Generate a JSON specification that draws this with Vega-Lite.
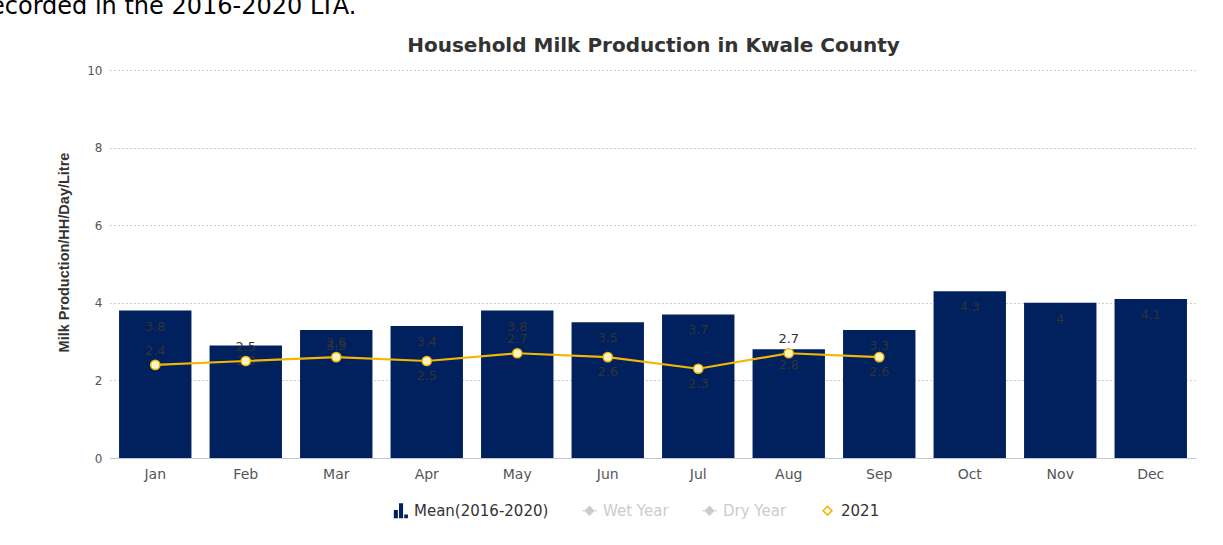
{
  "$schema": "https://vega.github.io/schema/vega-lite/v6.json",
  "autosize": {"type": "none"},
  "width": 1086,
  "height": 388,
  "padding": {"left": 110, "top": 70, "right": 27, "bottom": 87},
  "background": "white",
  "title": {
    "text": "ecorded in the 2016-2020 LTA.",
    "anchor": "start",
    "frame": "group",
    "orient": "top",
    "font": "DejaVu Sans",
    "fontSize": 24,
    "fontWeight": "normal",
    "color": "#000000",
    "baseline": "alphabetic",
    "offset": 0,
    "dx": -120,
    "dy": 3
  },
  "config": {
    "font": "DejaVu Sans",
    "view": {"stroke": null}
  },
  "data": {
    "values": [
      {"month": "Jan", "mean": 3.8, "y2021": 2.4},
      {"month": "Feb", "mean": 2.9, "y2021": 2.5},
      {"month": "Mar", "mean": 3.3, "y2021": 2.6},
      {"month": "Apr", "mean": 3.4, "y2021": 2.5},
      {"month": "May", "mean": 3.8, "y2021": 2.7},
      {"month": "Jun", "mean": 3.5, "y2021": 2.6},
      {"month": "Jul", "mean": 3.7, "y2021": 2.3},
      {"month": "Aug", "mean": 2.8, "y2021": 2.7},
      {"month": "Sep", "mean": 3.3, "y2021": 2.6},
      {"month": "Oct", "mean": 4.3, "y2021": null},
      {"month": "Nov", "mean": 4.0, "y2021": null},
      {"month": "Dec", "mean": 4.1, "y2021": null}
    ]
  },
  "resolve": {"axis": {"x": "independent"}},
  "layer": [
    {
      "mark": {"type": "bar"},
      "encoding": {
        "x": {
          "field": "month", "type": "nominal", "sort": null,
          "scale": {"paddingInner": 0.2, "paddingOuter": 0.1},
          "axis": {
            "title": null, "labelAngle": 0, "labelFont": "DejaVu Sans", "labelFontSize": 14, "labelColor": "#555555",
            "labelPadding": 9, "ticks": false, "domainColor": "#c0c8d8", "domainWidth": 1, "grid": false
          }
        },
        "y": {
          "field": "mean", "type": "quantitative",
          "scale": {"domain": [0, 10], "nice": false},
          "axis": {
            "title": "Milk Production/HH/Day/Litre",
            "titleFont": "Liberation Sans",
            "titleFontSize": 14.5, "titleFontWeight": "bold", "titleColor": "#333333",
            "titlePadding": 15, "titleY": 182,
            "values": [0, 2, 4, 6, 8, 10],
            "labelFont": "DejaVu Sans",
            "labelFontSize": 12, "labelColor": "#555555", "labelPadding": 8,
            "ticks": false, "domain": false,
            "gridColor": "#9a9a9a", "gridDash": [1, 3], "gridWidth": 1
          }
        },
        "color": {
          "datum": "Mean(2016-2020)",
          "type": "nominal",
          "scale": {
            "domain": ["Mean(2016-2020)", "Wet Year", "Dry Year", "2021"],
            "range": ["#00205e", "#cccccc", "#cccccc", "#f2b705"]
          },
          "legend": {
            "title": null,
            "orient": "none",
            "legendX": 283,
            "legendY": 433,
            "direction": "horizontal",
            "labelFontSize": 15,
            "labelFont": "DejaVu Sans",
            "columnPadding": 33,
            "symbolSize": 220,
            "labelOffset": 6,
            "encode": {
              "symbols": {
                "update": {
                  "shape": {"signal": "datum.index === 0 ? 'M-0.9,1V-0.1H-0.35V1Z M-0.2,1V-1H0.35V1Z M0.5,1V0.5H1V1Z' : (datum.index === 3 ? 'M0,-0.75L0.75,0L0,0.75L-0.75,0Z M0,-0.45L-0.45,0L0,0.45L0.45,0Z' : 'M-1,-0.08H1V0.08H-1Z M0,-0.7L0.7,0L0,0.7L-0.7,0Z')"},
                  "strokeWidth": {"value": 0},
                  "opacity": {"value": 1}
                }
              },
              "labels": {
                "update": {
                  "fill": {"signal": "datum.index === 1 || datum.index === 2 ? '#cccccc' : '#333333'"}
                }
              }
            }
          }
        }
      }
    },
    {
      "mark": {"type": "text", "baseline": "middle", "dy": 16, "fontSize": 12.5, "font": "DejaVu Sans", "color": "#333333"},
      "encoding": {
        "x": {"field": "month", "type": "nominal", "sort": null, "axis": null},
        "y": {"field": "mean", "type": "quantitative"},
        "text": {"field": "mean", "type": "quantitative", "format": ".2~f"}
      }
    },
    {
      "transform": [{"filter": "datum.y2021 != null"}],
      "mark": {"type": "line", "strokeWidth": 2.2},
      "encoding": {
        "x": {
          "field": "month", "type": "nominal", "sort": null,
          "axis": {
            "orient": "top", "title": "Household Milk Production in Kwale County",
            "titleFont": "DejaVu Sans",
            "titleFontSize": 20, "titleFontWeight": "bold", "titleColor": "#333333",
            "titlePadding": 15, "labels": false, "ticks": false, "domain": false, "grid": false
          }
        },
        "y": {"field": "y2021", "type": "quantitative"},
        "color": {
          "datum": "2021",
          "type": "nominal",
          "legend": {
            "title": null,
            "orient": "none",
            "legendX": 283,
            "legendY": 433,
            "direction": "horizontal",
            "labelFontSize": 15,
            "labelFont": "DejaVu Sans",
            "columnPadding": 33,
            "symbolSize": 220,
            "labelOffset": 6,
            "encode": {
              "symbols": {
                "update": {
                  "shape": {"signal": "datum.index === 0 ? 'M-0.9,1V-0.1H-0.35V1Z M-0.2,1V-1H0.35V1Z M0.5,1V0.5H1V1Z' : (datum.index === 3 ? 'M0,-0.75L0.75,0L0,0.75L-0.75,0Z M0,-0.45L-0.45,0L0,0.45L0.45,0Z' : 'M-1,-0.08H1V0.08H-1Z M0,-0.7L0.7,0L0,0.7L-0.7,0Z')"},
                  "strokeWidth": {"value": 0},
                  "opacity": {"value": 1}
                }
              },
              "labels": {
                "update": {
                  "fill": {"signal": "datum.index === 1 || datum.index === 2 ? '#cccccc' : '#333333'"}
                }
              }
            }
          }
        }
      }
    },
    {
      "transform": [{"filter": "datum.y2021 != null"}],
      "mark": {"type": "point", "shape": "circle", "filled": true, "size": 85, "fill": "#fff6c8", "stroke": "#f2b705", "strokeWidth": 1.5, "opacity": 1},
      "encoding": {
        "x": {"field": "month", "type": "nominal", "sort": null, "axis": null},
        "y": {"field": "y2021", "type": "quantitative"}
      }
    },
    {
      "transform": [
        {"filter": "datum.y2021 != null"},
        {"filter": {"field": "month", "oneOf": ["Jan", "Feb", "Mar", "May", "Aug"]}}
      ],
      "mark": {"type": "text", "baseline": "middle", "dy": -14, "fontSize": 13, "font": "DejaVu Sans", "color": "#333333"},
      "encoding": {
        "x": {"field": "month", "type": "nominal", "sort": null, "axis": null},
        "y": {"field": "y2021", "type": "quantitative"},
        "text": {"field": "y2021", "type": "quantitative", "format": ".1f"}
      }
    },
    {
      "transform": [
        {"filter": "datum.y2021 != null"},
        {"filter": {"field": "month", "oneOf": ["Apr", "Jun", "Jul", "Sep"]}}
      ],
      "mark": {"type": "text", "baseline": "middle", "dy": 15, "fontSize": 13, "font": "DejaVu Sans", "color": "#333333"},
      "encoding": {
        "x": {"field": "month", "type": "nominal", "sort": null, "axis": null},
        "y": {"field": "y2021", "type": "quantitative"},
        "text": {"field": "y2021", "type": "quantitative", "format": ".1f"}
      }
    }
  ]
}
